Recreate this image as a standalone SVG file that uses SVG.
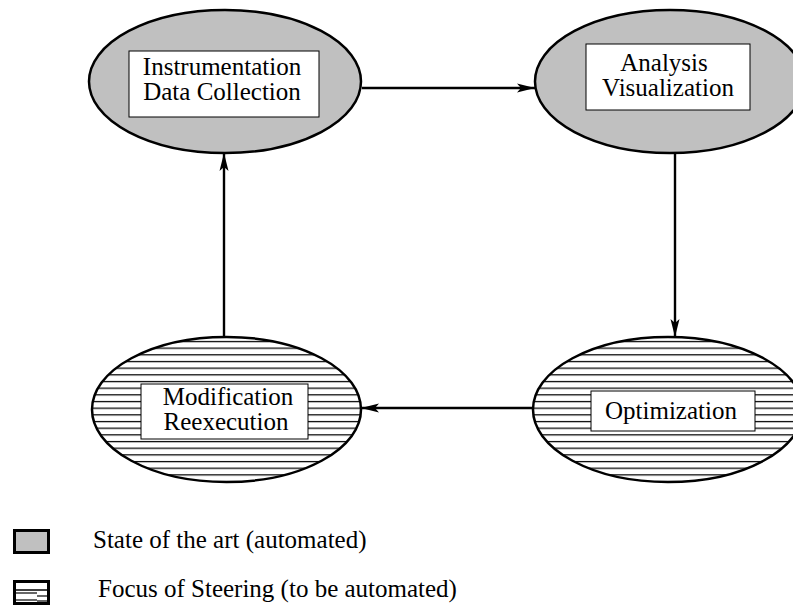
<svg xmlns="http://www.w3.org/2000/svg" width="793" height="605" viewBox="0 0 793 605">
<defs>
<pattern id="hatch" patternUnits="userSpaceOnUse" x="0" y="0.7" width="20" height="6.67">
<rect x="0" y="0" width="20" height="6.67" fill="#fff"/>
<line x1="0" y1="0.6" x2="20" y2="0.6" stroke="#000" stroke-width="1.3"/>
</pattern>
<marker id="arr" markerUnits="userSpaceOnUse" markerWidth="22" markerHeight="12" refX="18" refY="5" orient="auto">
<path d="M0,0.5 L18,5 L0,9.5 L4,5 z" fill="#000"/>
</marker>
</defs>
<style>
.gray{fill:#c0c0c0;stroke:#000;stroke-width:2.5}
.hat{fill:url(#hatch);stroke:#000;stroke-width:2.5}
.box{fill:#fff;stroke:#000;stroke-width:1}
text{font-family:"Liberation Serif","Times New Roman",serif;fill:#000}
.t{font-size:25px}
.lg{font-size:25px}
.con{stroke:#000;stroke-width:2.4;fill:none;marker-end:url(#arr)}
</style>
<rect width="793" height="605" fill="#fff"/>
<g id="connectors">
<line class="con" x1="362" y1="88" x2="535" y2="88"/>
<line class="con" x1="675" y1="153" x2="675" y2="337"/>
<line class="con" x1="533" y1="408" x2="361" y2="408"/>
<line class="con" x1="224" y1="337" x2="224" y2="153"/>
</g>
<g id="instrumentation">
<ellipse class="gray" cx="225" cy="81.5" rx="136" ry="71.5"/>
<rect class="box" x="129" y="51" width="190" height="66"/>
<text class="t" font-family="Liberation Serif, serif" x="222" y="75" text-anchor="middle">Instrumentation</text>
<text class="t" font-family="Liberation Serif, serif" x="222" y="100" text-anchor="middle">Data Collection</text>
</g>
<g id="analysis">
<ellipse class="gray" cx="670" cy="81.5" rx="135" ry="71.5"/>
<rect class="box" x="586" y="44" width="164" height="66"/>
<text class="t" font-family="Liberation Serif, serif" x="664" y="71" text-anchor="middle">Analysis</text>
<text class="t" font-family="Liberation Serif, serif" x="668" y="96" text-anchor="middle">Visualization</text>
</g>
<g id="modification">
<ellipse class="hat" cx="226.5" cy="409.5" rx="134.5" ry="72.5"/>
<rect class="box" x="141" y="384" width="167" height="55"/>
<text class="t" font-family="Liberation Serif, serif" x="228" y="405" text-anchor="middle">Modification</text>
<text class="t" font-family="Liberation Serif, serif" x="226" y="430" text-anchor="middle">Reexecution</text>
</g>
<g id="optimization">
<ellipse class="hat" cx="668" cy="409.5" rx="135" ry="72.5"/>
<rect class="box" x="591" y="391" width="164" height="40"/>
<text class="t" font-family="Liberation Serif, serif" x="671" y="419" text-anchor="middle">Optimization</text>
</g>
<g id="legend">
<rect x="14.5" y="530.5" width="34" height="22" fill="#c0c0c0" stroke="#000" stroke-width="3"/>
<text class="lg" font-family="Liberation Serif, serif" x="93" y="548">State of the art (automated)</text>
<rect x="14.5" y="581.5" width="34" height="22" fill="#fff" stroke="#000" stroke-width="3"/>
<line x1="16" y1="590" x2="47" y2="590" stroke="#000" stroke-width="1.5"/>
<line x1="16" y1="593" x2="37" y2="593" stroke="#000" stroke-width="1.2"/>
<line x1="37" y1="596" x2="47" y2="596" stroke="#000" stroke-width="1.2"/>
<line x1="16" y1="600" x2="37" y2="600" stroke="#000" stroke-width="1.2"/>
<line x1="37" y1="601" x2="47" y2="601" stroke="#000" stroke-width="1.2"/>
<text class="lg" font-family="Liberation Serif, serif" x="98" y="597">Focus of Steering (to be automated)</text>
</g>
</svg>
